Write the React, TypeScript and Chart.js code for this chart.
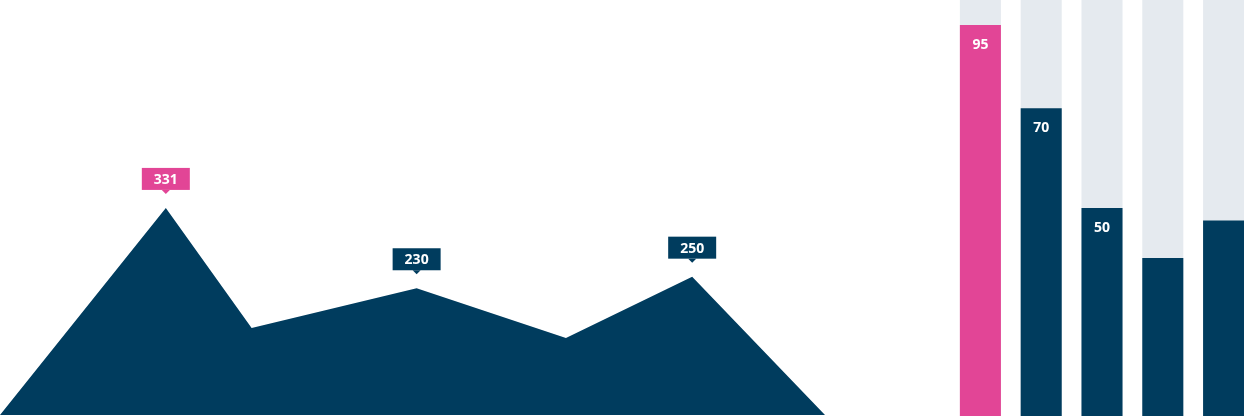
import { useEffect, useRef } from 'react'
import Chart from 'chart.js/auto'

const NAVY = '#003c5e'
const PINK = '#e24596'
const TRACK = '#e5eaef'

// area chart (left)
const areaX = [0, 20.1, 30.5, 50.5, 68.6, 83.9, 100]
const areaY = [80, 330, 185, 233, 173, 247, 80]
const areaLabels = ['', '331', '', '230', '', '250', '']
const areaLabelColors = ['', PINK, '', NAVY, '', NAVY, '']

// bar chart (right)
const barCategories = ['A', 'B', 'C', 'D', 'E']
const barValues = [94, 74, 50, 38, 47]
const barTrack = [100, 100, 100, 100, 100]
const barLabels = ['95', '70', '50', '', '']
const barColors = [PINK, NAVY, NAVY, NAVY, NAVY]

function AreaChart() {
  const canvasRef = useRef<HTMLCanvasElement>(null)

  useEffect(() => {
    if (!canvasRef.current) return

    const calloutPlugin = {
      id: 'callouts',
      afterDatasetsDraw(chart: any) {
        const ctx = chart.ctx
        const meta = chart.getDatasetMeta(0)
        meta.data.forEach((pt: any, i: number) => {
          const text = areaLabels[i]
          if (!text) return
          const w = 48
          const h = 22
          const bottom = pt.y - 18
          const left = pt.x - w / 2
          ctx.save()
          ctx.fillStyle = areaLabelColors[i]
          ctx.fillRect(left, bottom - h, w, h)
          ctx.beginPath()
          ctx.moveTo(pt.x - 4, bottom)
          ctx.lineTo(pt.x + 4, bottom)
          ctx.lineTo(pt.x, bottom + 4)
          ctx.closePath()
          ctx.fill()
          ctx.fillStyle = '#ffffff'
          ctx.font = 'bold 14px "Open Sans"'
          ctx.textAlign = 'center'
          ctx.textBaseline = 'middle'
          ctx.fillText(text, pt.x, bottom - h / 2 + 1)
          ctx.restore()
        })
      }
    }

    const chart = new Chart(canvasRef.current, {
      type: 'line',
      data: {
        datasets: [{
          data: areaX.map((x, i) => ({ x, y: areaY[i] })),
          borderWidth: 0,
          backgroundColor: NAVY,
          fill: 'start',
          pointRadius: 0,
          tension: 0
        }]
      },
      options: {
        animation: false,
        responsive: true,
        maintainAspectRatio: false,
        layout: { padding: 0 },
        scales: {
          x: { type: 'linear', min: 0, max: 100, display: false },
          y: { min: 80, max: 581, display: false }
        },
        plugins: {
          legend: { display: false },
          tooltip: { enabled: false }
        }
      },
      plugins: [calloutPlugin]
    })

    return () => chart.destroy()
  }, [])

  return (
    <div style={{ position: 'absolute', left: 0, top: 0, width: 825, height: 415 }}>
      <canvas ref={canvasRef}></canvas>
    </div>
  )
}

function BarChart() {
  const canvasRef = useRef<HTMLCanvasElement>(null)

  useEffect(() => {
    if (!canvasRef.current) return

    const valueLabelPlugin = {
      id: 'valueLabels',
      afterDatasetsDraw(chart: any) {
        const ctx = chart.ctx
        const meta = chart.getDatasetMeta(0)
        meta.data.forEach((bar: any, i: number) => {
          const text = barLabels[i]
          if (!text) return
          ctx.save()
          ctx.fillStyle = '#ffffff'
          ctx.font = 'bold 14px "Open Sans"'
          ctx.textAlign = 'center'
          ctx.textBaseline = 'middle'
          ctx.fillText(text, bar.x, bar.y + 20)
          ctx.restore()
        })
      }
    }

    const chart = new Chart(canvasRef.current, {
      type: 'bar',
      data: {
        labels: barCategories,
        datasets: [
          {
            data: barValues,
            backgroundColor: barColors,
            borderWidth: 0,
            grouped: false,
            categoryPercentage: 1,
            barPercentage: 0.675
          },
          {
            data: barTrack,
            backgroundColor: TRACK,
            borderWidth: 0,
            grouped: false,
            categoryPercentage: 1,
            barPercentage: 0.675
          }
        ]
      },
      options: {
        animation: false,
        responsive: true,
        maintainAspectRatio: false,
        layout: { padding: 0 },
        scales: {
          x: { display: false },
          y: { min: 0, max: 100, display: false }
        },
        plugins: {
          legend: { display: false },
          tooltip: { enabled: false }
        }
      },
      plugins: [valueLabelPlugin]
    })

    return () => chart.destroy()
  }, [])

  return (
    <div style={{ position: 'absolute', left: 950, top: 0, width: 304, height: 416 }}>
      <canvas ref={canvasRef}></canvas>
    </div>
  )
}

export default function App() {
  return (
    <div style={{ position: 'fixed', left: 0, top: 0, width: 1244, height: 418, overflow: 'hidden', background: '#ffffff' }}>
      <AreaChart />
      <BarChart />
    </div>
  )
}
